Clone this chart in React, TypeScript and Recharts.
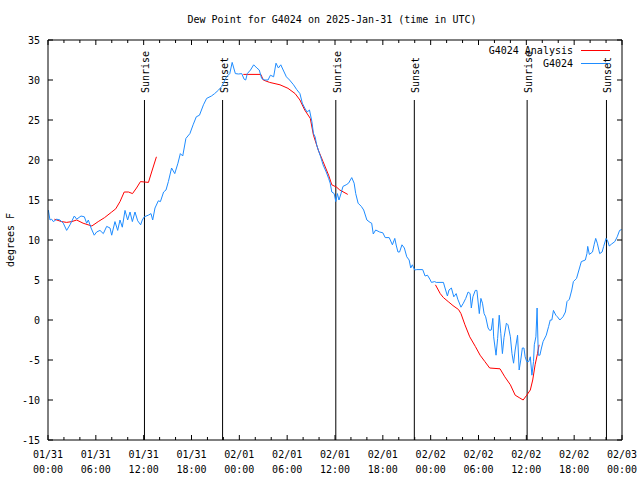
import { LineChart, Line, XAxis, YAxis, ReferenceLine } from "recharts";

const FONT = "'DejaVu Sans Mono', 'Liberation Mono', monospace";

// observed dew point (hours since 01/31 00:00 UTC)
const obsHours = [
  0.04, 0.25, 0.46, 0.67, 1.09, 1.5, 1.92, 2.34, 2.76, 3.3, 3.6, 4.14, 4.56, 4.85, 5.06, 5.4, 5.8, 6.1, 6.52, 6.94,
  7.36, 7.78, 7.99, 8.4, 8.74, 9.03, 9.32, 9.66, 9.99, 10.29, 10.58, 10.91, 11.25, 11.62, 11.83, 12.08, 12.58, 12.92,
  13.13, 13.42, 13.84, 14.1, 14.5, 14.8, 15.1, 15.5, 15.9, 16.3, 16.6, 16.9, 17.3, 17.8, 18.2, 18.6, 19.0, 19.5,
  19.9, 20.5, 20.9, 21.4, 21.8, 22.4, 22.8, 23.1, 23.5, 23.9, 24.3, 24.6, 24.8, 25.0, 25.4, 25.8, 26.2, 26.5, 26.8,
  27.2, 27.6, 27.9, 28.3, 28.6, 28.9, 29.2, 29.5, 29.9, 30.3, 30.8, 31.2, 31.6, 31.9, 32.2, 32.5, 32.8, 33.1, 33.3,
  33.5, 33.7, 33.9, 34.2, 34.5, 34.9, 35.2, 35.4, 35.6, 35.9, 36.1, 36.3, 36.5, 36.75, 37.0, 37.4, 37.7, 38.1, 38.4,
  38.6, 38.9, 39.3, 39.6, 40.0, 40.4, 40.6, 40.8, 41.1, 41.6, 42.0, 42.3, 42.8, 43.2, 43.5, 43.7, 43.9, 44.1, 44.4,
  44.7, 45.0, 45.3, 45.5, 45.7, 46.0, 46.25, 47.0, 47.3, 47.6, 47.9, 48.1, 48.5, 48.7, 49.6, 49.8, 50.1, 50.3, 50.6,
  50.9, 51.2, 51.4, 51.8, 52.1, 52.4, 52.7, 52.95, 53.1, 53.3, 53.6, 53.8, 54.1, 54.3, 54.5, 54.7, 54.9, 55.2, 55.4,
  55.6, 55.8, 55.9, 56.2, 56.4, 56.6, 56.8, 57.0, 57.2, 57.5, 57.7, 58.0, 58.2, 58.4, 58.6, 58.9, 59.1, 59.3, 59.5,
  59.7, 59.85, 60.05, 60.3, 60.5, 60.7, 60.9, 61.0, 61.2, 61.35, 61.5, 61.7, 61.9, 62.1, 62.5, 62.8, 63.0, 63.2,
  63.4, 63.7, 63.9, 64.2, 64.6, 64.9, 65.1, 65.4, 65.7, 65.9, 66.3, 66.6, 66.9, 67.4, 67.6, 67.7, 67.9, 68.3, 68.5,
  68.7, 68.9, 69.2, 69.5, 69.7, 70.0, 70.2, 70.4, 70.7, 71.1, 71.4, 71.7, 71.95,
];
const obsValues = [
  13.75, 12.5, 12.6, 12.3, 12.6, 12.5, 12.1, 11.2, 11.9, 13.0, 12.6, 13.0, 12.9, 12.1, 12.5, 11.5, 10.6, 11.0, 11.2,
  10.8, 11.7, 11.5, 10.6, 12.3, 11.2, 12.5, 11.6, 13.7, 12.5, 13.5, 12.3, 13.5, 12.4, 11.9, 12.5, 12.9, 13.1, 13.3,
  12.5, 14.0, 14.9, 14.8, 16.0, 16.25, 17.3, 19.0, 18.3, 19.6, 20.8, 20.5, 22.7, 23.3, 24.4, 25.4, 25.6, 26.9, 27.7,
  28.0, 28.3, 28.75, 29.2, 30.4, 30.8, 32.2, 30.8, 30.75, 30.8, 30.1, 30.0, 30.8, 31.25, 31.9, 31.5, 31.25, 30.2,
  30.0, 30.0, 30.6, 30.4, 32.1, 31.5, 31.9, 31.25, 30.4, 30.0, 29.4, 28.8, 28.3, 27.1, 26.5, 26.0, 26.25, 24.8, 23.3,
  22.9, 21.9, 21.25, 20.4, 19.4, 18.5, 17.7, 17.1, 16.0, 15.8, 14.8, 15.8, 15.0, 15.8, 16.7, 16.9, 17.1, 17.8, 17.1,
  15.8, 14.6, 14.2, 13.75, 12.5, 12.2, 12.1, 10.75, 11.25, 11.0, 10.9, 10.3, 10.3, 9.4, 10.2, 9.25, 8.5, 8.5, 9.4,
  9.0, 7.9, 7.5, 6.5, 6.9, 6.25, 6.3, 6.3, 5.5, 5.6, 5.1, 4.7, 4.8, 4.7, 4.7, 4.0, 3.0, 3.75, 4.0,
  2.9, 3.3, 2.6, 1.6, 2.1, 2.7, 3.5, 3.3, 1.5, 2.9, 3.7, 3.7, 0.8, 2.7, 2.1, 0.8, 0.4, -1.0, -1.3,
  -1.25, 0.2, -2.1, -4.4, -2.3, 0.6, -1.7, -4.2, -2.2, -0.4, -0.6, -2.1, -4.2, -5.4, -3.75, -1.9, -6.25, -5.0, -3.5,
  -3.5, -4.6, -5.2, -5.2, -4.6, -6.9, -5.2, -3.1, -2.1, 1.5, -4.4, -4.4, -3.5, -2.7, -1.9, -0.8, 0.0, 0.0,
  1.2, 0.6, 0.4, 0.0, 0.4, 1.0, 2.3, 2.6, 3.75, 4.8, 5.2, 6.25, 7.3, 7.5, 8.3, 9.2, 8.2, 8.5, 9.4,
  10.2, 9.6, 8.3, 8.5, 9.2, 10.2, 9.9, 9.25, 9.5, 9.8, 10.4, 11.2, 11.3,
];

// analysis (null = gap between runs)
const analysisHours = [
  0.8, 1.7, 2.34, 2.97, 3.6, 4.4, 5.5, 6.3, 7.1, 7.99, 8.5, 9.03, 9.56, 10.1, 10.6, 11.1, 11.6, 12.6, 13.0, 13.6,
  19.0,
  24.5, 26.7, 27.0, 27.8, 29.1, 30.1, 31.0, 31.6, 32.2, 32.9, 33.3, 33.9, 34.5, 35.2, 35.6, 36.2, 36.6, 37.6,
  43.0,
  48.6, 49.2, 49.6, 50.2, 50.8, 51.5, 51.8, 52.3, 52.9, 53.6, 54.2, 54.8, 55.4, 56.7, 57.3, 58.0, 58.6, 59.1, 59.6,
  60.05, 60.5, 60.8, 61.1, 61.4, 61.6,
];
const analysisValues = [
  12.6, 12.3, 12.2, 12.3, 12.5, 12.1, 11.75, 12.3, 12.8, 13.5, 13.9, 14.8, 16.0, 16.0, 15.8, 16.5, 17.3, 17.2, 18.5, 20.4,
  null,
  30.7, 30.7, 30.0, 29.7, 29.4, 28.96, 28.3, 27.5, 26.25, 25.2, 23.1, 21.25, 19.8, 18.1, 16.9, 16.6, 16.25, 15.7,
  null,
  4.4, 3.3, 2.8, 2.3, 1.8, 1.3, 0.8, -0.6, -2.1, -3.3, -4.4, -5.2, -6.0, -6.1, -7.1, -8.1, -9.4, -9.7, -10.0,
  -9.4, -8.75, -7.5, -5.6, -4.2, -3.1,
];

const sunriseHours = [12.1, 36.1, 60.1];
const sunsetHours = [21.9, 45.95, 70.05];

const xTicks = [
  0, 2, 4, 6, 8, 10, 12, 14, 16, 18, 20, 22, 24, 26, 28, 30, 32, 34, 36, 38, 40, 42, 44, 46, 48, 50, 52, 54, 56, 58,
  60, 62, 64, 66, 68, 70, 72,
];
const xTickDates = ["01/31", "01/31", "01/31", "01/31", "02/01", "02/01", "02/01", "02/01", "02/02", "02/02", "02/02", "02/02", "02/03"];
const xTickTimes = ["00:00", "06:00", "12:00", "18:00", "00:00", "06:00", "12:00", "18:00", "00:00", "06:00", "12:00", "18:00", "00:00"];
const yTicks = [-15, -10, -5, 0, 5, 10, 15, 20, 25, 30, 35];

const obsData = obsHours.map((h, i) => ({ h, v: obsValues[i] }));
const analysisData = analysisHours.map((h, i) => ({ h, v: analysisValues[i] }));

function BottomTick({ x, y, payload }: any) {
  const v = payload.value;
  const major = v % 6 === 0;
  const i = v / 6;
  return (
    <g>
      <line x1={x} x2={x} y1={440} y2={440 - (major ? 5 : 3)} stroke="#000" />
      {major && (
        <text x={x} y={458} textAnchor="middle" fontSize={10} fontFamily={FONT} fill="#000">
          <tspan x={x}>{xTickDates[i]}</tspan>
          <tspan x={x} dy={15}>{xTickTimes[i]}</tspan>
        </text>
      )}
    </g>
  );
}

function TopTick({ x, payload }: any) {
  const major = payload.value % 6 === 0;
  return <line x1={x} x2={x} y1={40} y2={40 + (major ? 5 : 3)} stroke="#000" />;
}

function LeftTick({ y, payload }: any) {
  return (
    <g>
      <line x1={48} x2={53} y1={y} y2={y} stroke="#000" />
      <text x={40} y={y + 4} textAnchor="end" fontSize={10} fontFamily={FONT} fill="#000">
        {payload.value}
      </text>
    </g>
  );
}

function RightTick({ y }: any) {
  return <line x1={622} x2={617} y1={y} y2={y} stroke="#000" />;
}

function SunLabel({ viewBox, text }: any) {
  const tx = viewBox.x + 5;
  const ty = viewBox.y - 7;
  return (
    <text x={tx} y={ty} transform={`rotate(-90 ${tx} ${ty})`} fontSize={10} fontFamily={FONT} fill="#000">
      {text}
    </text>
  );
}

export default function App() {
  const sun = [
    ...sunriseHours.map((h) => ({ h, text: "Sunrise" })),
    ...sunsetHours.map((h) => ({ h, text: "Sunset" })),
  ];
  return (
    <div style={{ position: "absolute", left: 0, top: 0, width: 640, height: 480, background: "#fff" }}>
      <LineChart width={640} height={480} margin={{ top: 39, right: 17, bottom: 39, left: 47 }}>
        <XAxis xAxisId="b" type="number" dataKey="h" domain={[0, 72]} ticks={xTicks} interval={0}
          height={1} tickSize={0} tickMargin={0} tickLine={false} tick={<BottomTick />} axisLine={{ stroke: "#000" }} allowDataOverflow />
        <XAxis xAxisId="t" orientation="top" type="number" dataKey="h" domain={[0, 72]} ticks={xTicks} interval={0}
          height={1} tickSize={0} tickMargin={0} tickLine={false} tick={<TopTick />} axisLine={{ stroke: "#000" }} allowDataOverflow />
        <YAxis yAxisId="l" type="number" domain={[-15, 35]} ticks={yTicks} interval={0}
          width={1} tickSize={0} tickMargin={0} tickLine={false} tick={<LeftTick />} axisLine={{ stroke: "#000" }} allowDataOverflow />
        <YAxis yAxisId="r" orientation="right" type="number" domain={[-15, 35]} ticks={yTicks} interval={0}
          width={1} tickSize={0} tickMargin={0} tickLine={false} tick={<RightTick />} axisLine={{ stroke: "#000" }} allowDataOverflow />

        {sun.map((s) => (
          <ReferenceLine key={s.text + s.h} xAxisId="b" yAxisId="l" stroke="#000" strokeWidth={1}
            segment={[{ x: s.h, y: -15 }, { x: s.h, y: 27.5 }]}
            label={<SunLabel text={s.text} />} />
        ))}

        <Line xAxisId="b" yAxisId="l" data={analysisData} dataKey="v" type="linear" stroke="#ff0000"
          strokeWidth={1} dot={false} activeDot={false} connectNulls={false} isAnimationActive={false} />
        <Line xAxisId="b" yAxisId="l" data={obsData} dataKey="v" type="linear" stroke="#1e8cff"
          strokeWidth={1} dot={false} activeDot={false} isAnimationActive={false} />

        <text x={332} y={23} textAnchor="middle" fontSize={10} fontFamily={FONT} fill="#000">
          Dew Point for G4024 on 2025-Jan-31 (time in UTC)
        </text>
        <text x={14} y={240} transform="rotate(-90 14 240)" textAnchor="middle" fontSize={10} fontFamily={FONT} fill="#000">
          degrees F
        </text>
        <text x={573} y={54} textAnchor="end" fontSize={10} fontFamily={FONT} fill="#000">G4024 Analysis</text>
        <line x1={581} x2={610} y1={50.5} y2={50.5} stroke="#ff0000" />
        <text x={573} y={67} textAnchor="end" fontSize={10} fontFamily={FONT} fill="#000">G4024</text>
        <line x1={581} x2={610} y1={63.5} y2={63.5} stroke="#1e8cff" />
      </LineChart>
    </div>
  );
}
